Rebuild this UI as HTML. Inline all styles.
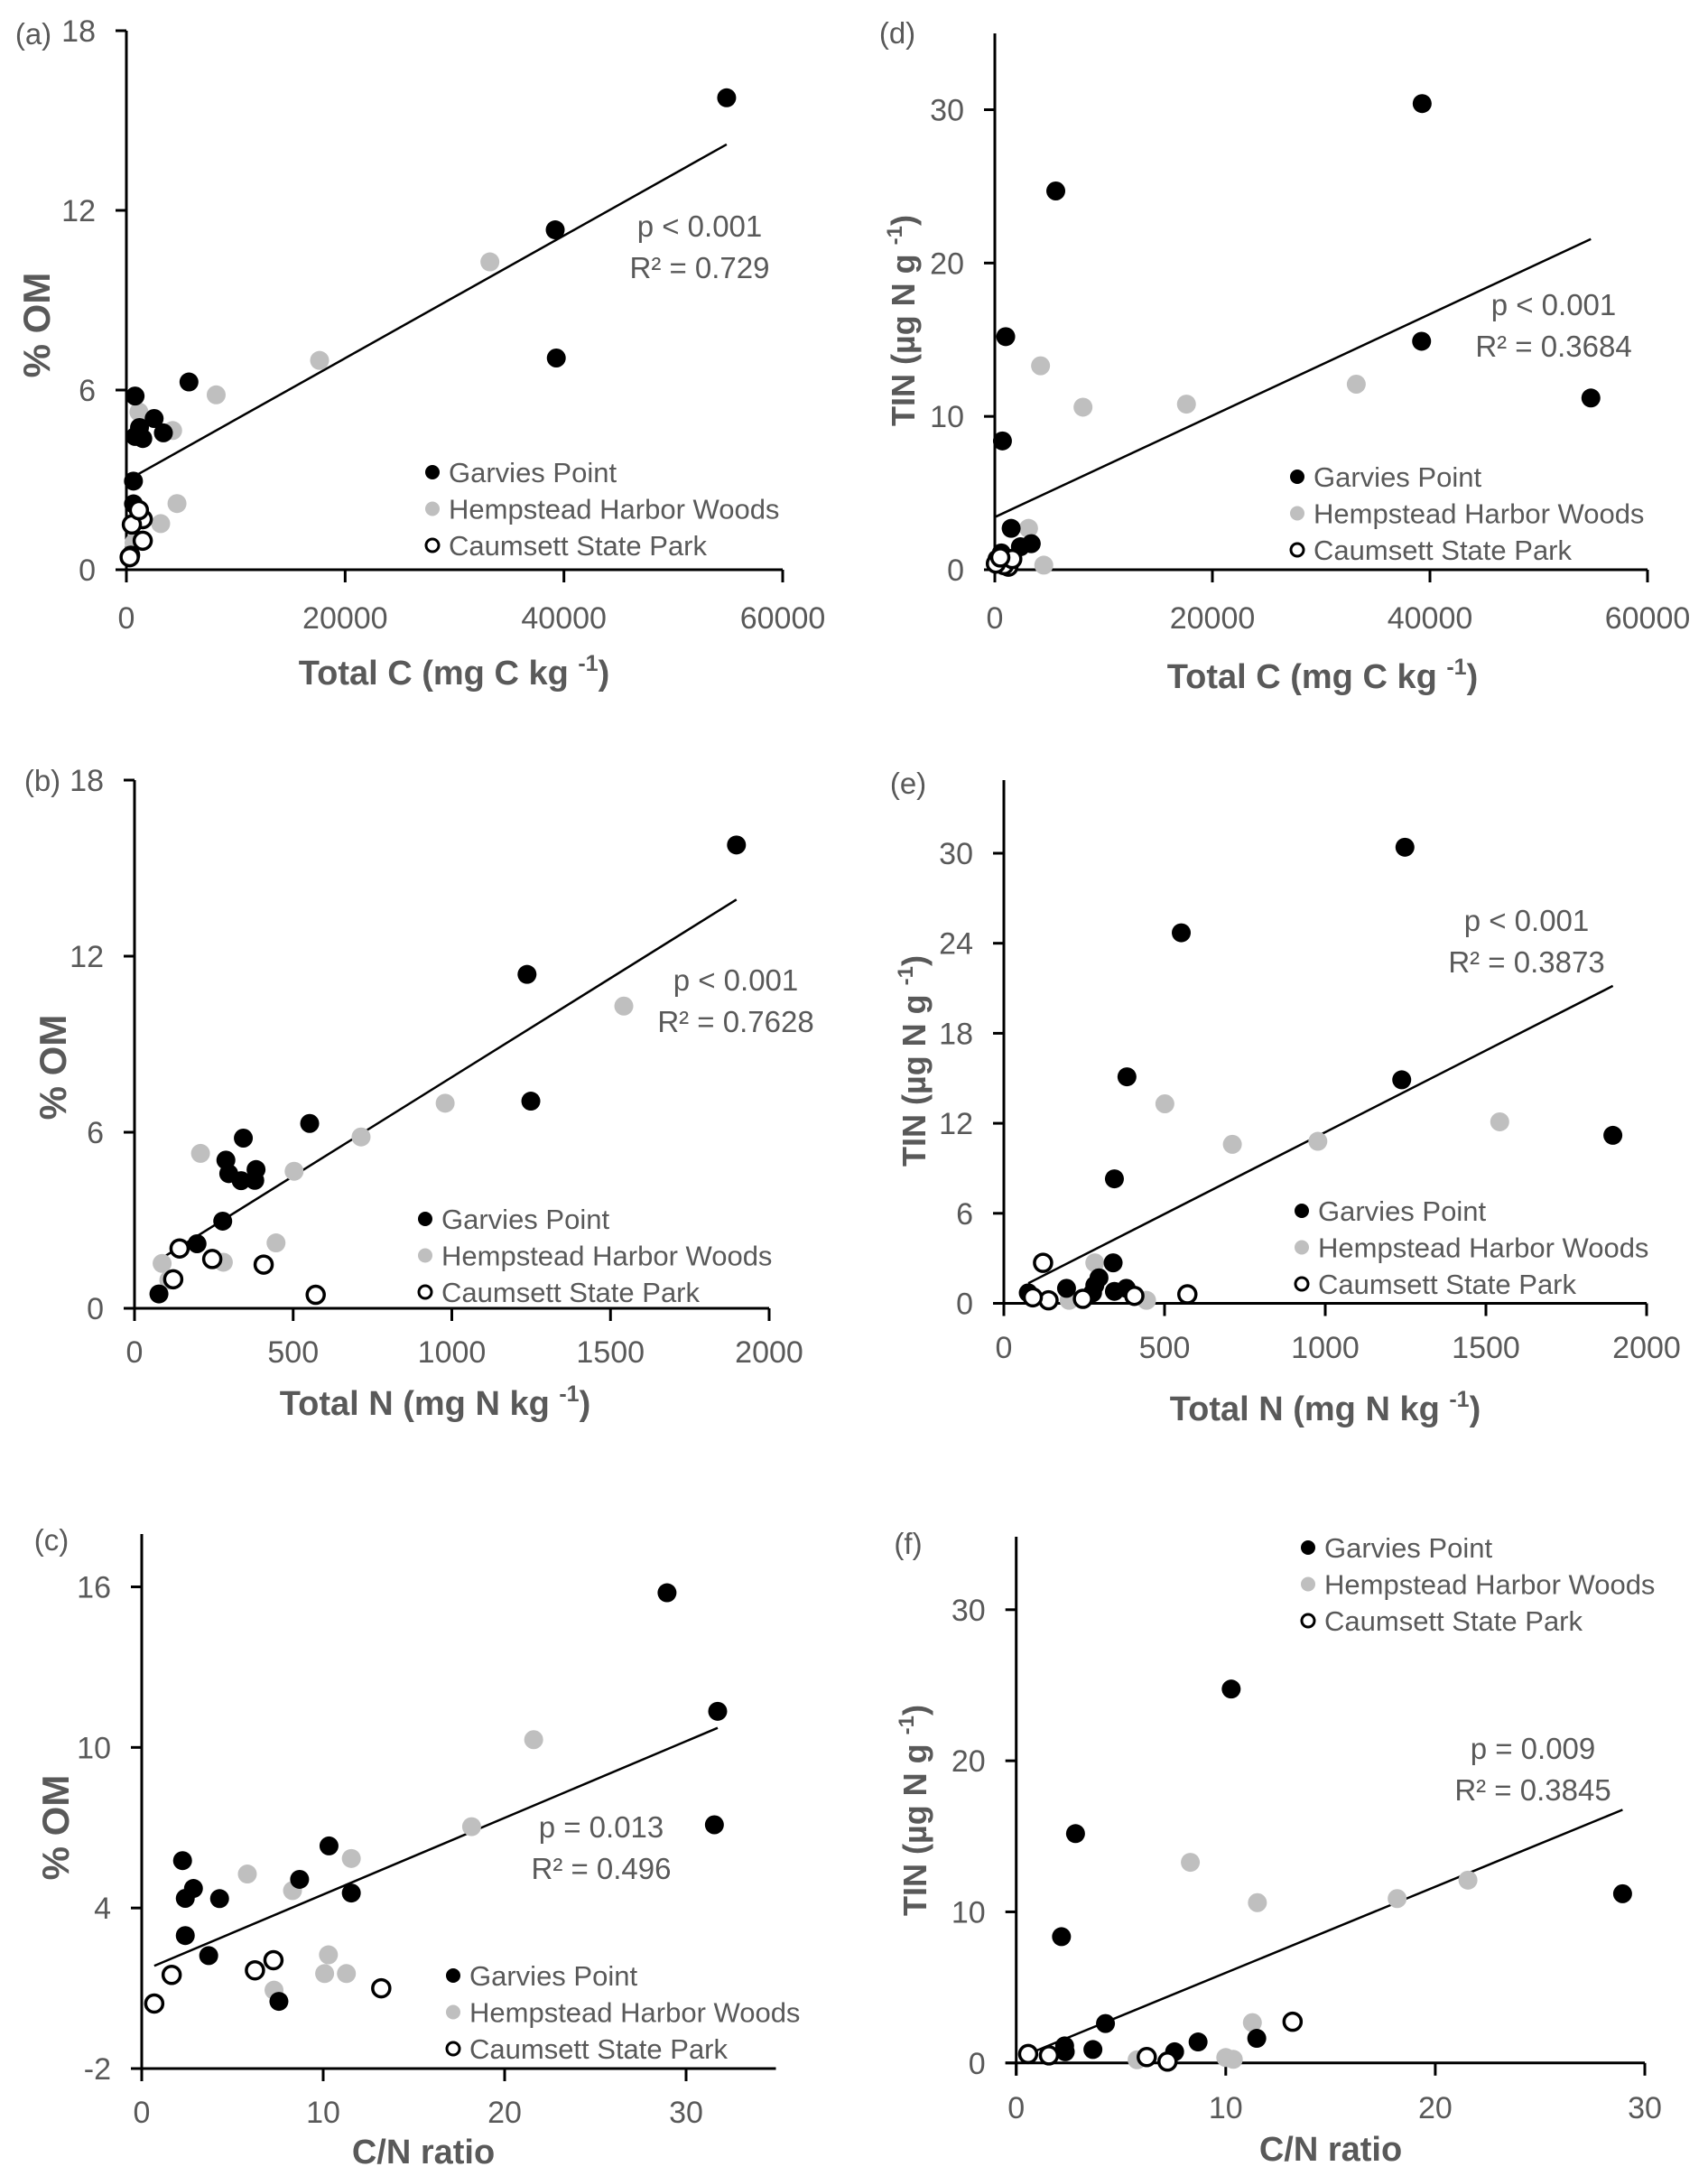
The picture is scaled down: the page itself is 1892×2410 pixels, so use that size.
<!DOCTYPE html>
<html><head><meta charset="utf-8"><style>
html,body{margin:0;padding:0;background:#fff}
svg{display:block}
text{font-family:"Liberation Sans",sans-serif}
</style></head><body>
<svg id="fig" xmlns="http://www.w3.org/2000/svg" width="1892" height="2410" viewBox="0 0 1892 2410"></svg>
<script>
// ---- Panel (a): %OM vs Total C ----
const aBlackX=[54876,39204,39303,5721,796,2537,1200,800,1500,3383,647,650,400];
const aBlackY=[15.76,11.35,7.07,6.27,5.80,5.05,4.75,4.45,4.38,4.57,2.96,2.2,0.49];
const aGrayX=[33233,17661,8209,1144,4229,4627,3134,700];
const aGrayY=[10.28,6.99,5.84,5.27,4.65,2.21,1.54,0.9];
const aOpenX=[1493,500,1493,300,1144];
const aOpenY=[1.69,1.51,0.97,0.42,1.99];
const aTrend=[2.97,0.0002047];
const aXTicks=[0,20000,40000,60000];
const aYTicks=[0,6,12,18];
const aStats=["p < 0.001","R² = 0.729"];
// ---- Panel (d): TIN vs Total C ----
const dBlackX=[39281,5604,1000,39231,54794,700,1500,3350,2350,600,200,1100];
const dBlackY=[30.4,24.7,15.2,14.9,11.2,8.4,2.7,1.7,1.5,1.1,0.7,0.5];
const dGrayX=[4203,8106,17614,33227,3100,4500];
const dGrayY=[13.3,10.6,10.8,12.1,2.7,0.3];
const dOpenX=[600,1250,850,1600,100,500];
const dOpenY=[0.5,0.2,0.3,0.7,0.4,0.8];
const dTrend=[3.43,0.000331];
const dXTicks=[0,20000,40000,60000];
const dYTicks=[0,10,20,30];
const dStats=["p < 0.001","R² = 0.3684"];
// ---- Panel (b): %OM vs Total N ----
const bBlackX=[1897,1237,1249,552,343,288,297,336,383,379,278,197,77];
const bBlackY=[15.79,11.38,7.06,6.30,5.80,5.05,4.59,4.35,4.73,4.36,2.97,2.20,0.49];
const bGrayX=[1542,979,714,208,503,446,87,280,108];
const bGrayY=[10.30,6.99,5.84,5.28,4.67,2.23,1.53,1.57,0.96];
const bOpenX=[142,245,407,122,571];
const bOpenY=[2.04,1.68,1.49,0.99,0.46];
const bTrend=[1.13,0.006747];
const bXTicks=[0,500,1000,1500,2000];
const bYTicks=[0,6,12,18];
const bStats=["p < 0.001","R² = 0.7628"];
// ---- Panel (e): TIN vs Total N ----
const eBlackX=[1248,552,383,1238,1895,344,340,296,283,276,195,344,381,76];
const eBlackY=[30.4,24.7,15.1,14.9,11.2,8.3,2.7,1.7,1.2,0.7,1.0,0.8,1.0,0.7];
const eGrayX=[501,711,977,1543,283,88,203,444];
const eGrayY=[13.3,10.6,10.8,12.1,2.7,0.4,0.2,0.2];
const eOpenX=[122,139,246,406,571,90];
const eOpenY=[2.7,0.2,0.3,0.5,0.6,0.4];
const eTrend=[0.51,0.010896];
const eXTicks=[0,500,1000,1500,2000];
const eYTicks=[0,6,12,18,24,30];
const eStats=["p < 0.001","R² = 0.3873"];
// ---- Panel (c): %OM vs C/N ----
const cBlackX=[28.95,31.74,31.56,10.32,2.25,2.85,2.4,4.29,8.7,11.55,2.4,3.69,7.56];
const cBlackY=[15.78,11.35,7.11,6.32,5.77,4.73,4.36,4.35,5.07,4.56,2.97,2.22,0.51];
const cGrayX=[21.6,18.18,11.55,5.82,8.31,10.29,10.08,11.28,7.29];
const cGrayY=[10.29,7.04,5.85,5.27,4.65,2.25,1.55,1.55,0.93];
const cOpenX=[7.26,6.24,1.65,13.2,0.69];
const cOpenY=[2.05,1.67,1.50,1.0,0.43];
const cTrend=[1.64,0.2864];
const cXTicks=[0,10,20,30];
const cYTicks=[-2,4,10,16];
const cStats=["p = 0.013","R² = 0.496"];
// ---- Panel (f): TIN vs C/N ----
const fBlackX=[28.94,10.26,2.83,2.16,4.26,11.48,8.68,7.56,3.66,2.31,2.34];
const fBlackY=[11.2,24.75,15.18,8.36,2.61,1.63,1.39,0.74,0.89,1.13,0.74];
const fGrayX=[21.56,18.18,11.51,8.31,11.27,10.0,10.36,5.77,7.22];
const fGrayY=[12.1,10.88,10.61,13.28,2.67,0.36,0.24,0.21,0.09];
const fOpenX=[13.19,0.57,1.56,6.23,7.22];
const fOpenY=[2.73,0.59,0.5,0.39,0.09];
const fTrend=[0.27,0.5697];
const fXTicks=[0,10,20,30];
const fYTicks=[0,10,20,30];
const fStats=["p = 0.009","R² = 0.3845"];

const NS="http://www.w3.org/2000/svg";
const svg=document.getElementById('fig');
const GRAY_TXT="#595959";
function mk(tag,attrs,parent){const e=document.createElementNS(NS,tag);for(const k in attrs)e.setAttribute(k,attrs[k]);(parent||svg).appendChild(e);return e;}

const panels=[
 {id:'a',label:'(a)',x0:140,x1:867,y0:631,y1:34,xmin:0,xmax:60000,ymin:0,ymax:18,axisTop:34,
  bx:aBlackX,by:aBlackY,gx:aGrayX,gy:aGrayY,ox:aOpenX,oy:aOpenY,tr:aTrend,xt:aXTicks,yt:aYTicks,st:aStats,
  stx:775,sty:250,legX:479,legY:523,labX:37,labY:37,xTitle:['Total C (mg C kg ','-1',')'],xtx:503,xty:744,xly:695,yTitle:'om',ytx:42,yty:360},
 {id:'d',label:'(d)',x0:1102,x1:1825,y0:631,y1:121.5,xmin:0,xmax:60000,ymin:0,ymax:30,axisTop:37,
  bx:dBlackX,by:dBlackY,gx:dGrayX,gy:dGrayY,ox:dOpenX,oy:dOpenY,tr:dTrend,xt:dXTicks,yt:dYTicks,st:dStats,
  stx:1721,sty:337,legX:1437,legY:528,labX:994,labY:36,xTitle:['Total C (mg C kg ','-1',')'],xtx:1465,xty:748,xly:695,yTitle:'tin',ytx:1000,yty:355},
 {id:'b',label:'(b)',x0:149,x1:852,y0:1449,y1:864,xmin:0,xmax:2000,ymin:0,ymax:18,axisTop:864,
  bx:bBlackX,by:bBlackY,gx:bGrayX,gy:bGrayY,ox:bOpenX,oy:bOpenY,tr:bTrend,xt:bXTicks,yt:bYTicks,st:bStats,
  stx:815,sty:1085,legX:471,legY:1350,labX:47,labY:864,xTitle:['Total N (mg N kg ','-1',')'],xtx:482,xty:1553,xly:1508,yTitle:'om',ytx:60,yty:1182},
 {id:'e',label:'(e)',x0:1112,x1:1824,y0:1443.5,y1:945,xmin:0,xmax:2000,ymin:0,ymax:30,axisTop:864,
  bx:eBlackX,by:eBlackY,gx:eGrayX,gy:eGrayY,ox:eOpenX,oy:eOpenY,tr:eTrend,xt:eXTicks,yt:eYTicks,st:eStats,
  stx:1691,sty:1019,legX:1442,legY:1341,labX:1006,labY:867,xTitle:['Total N (mg N kg ','-1',')'],xtx:1468,xty:1559,xly:1503,yTitle:'tin',ytx:1012,yty:1175},
 {id:'c',label:'(c)',x0:157,x1:760,y0:2291,y1:1757.5,xmin:0,xmax:30,ymin:-2,ymax:16,axisTop:1699,xEnd:859.5,
  bx:cBlackX,by:cBlackY,gx:cGrayX,gy:cGrayY,ox:cOpenX,oy:cOpenY,tr:cTrend,xt:cXTicks,yt:cYTicks,st:cStats,
  stx:666,sty:2023,legX:502,legY:2188,labX:57,labY:1705,xTitle:['C/N ratio'],xtx:469,xty:2382,xly:2350,yTitle:'om',ytx:63,yty:2024},
 {id:'f',label:'(f)',x0:1125.7,x1:1822,y0:2284.8,y1:1782.8,xmin:0,xmax:30,ymin:0,ymax:30,axisTop:1702,
  bx:fBlackX,by:fBlackY,gx:fGrayX,gy:fGrayY,ox:fOpenX,oy:fOpenY,tr:fTrend,xt:fXTicks,yt:fYTicks,st:fStats,
  stx:1698,sty:1936,legX:1449,legY:1714,labX:1006,labY:1709,xTitle:['C/N ratio'],xtx:1474,xty:2379,xly:2345,yTitle:'tin',ytx:1013,yty:2005}
];

panels.forEach(p=>{
  const g=mk('g',{});
  
  
  const sx=v=>p.x0+(v-p.xmin)/(p.xmax-p.xmin)*(p.x1-p.x0);
  const sy=v=>p.y0-(v-p.ymin)/(p.ymax-p.ymin)*(p.y0-p.y1);
  const xEnd=p.xEnd||p.x1;
  const ya=mk('line',{x1:p.x0,y1:p.axisTop,x2:p.x0,y2:p.y0+14,stroke:'#000','stroke-width':3},g);
  
  
  const xa=mk('line',{x1:p.x0-12,y1:p.y0,x2:xEnd,y2:p.y0,stroke:'#000','stroke-width':3},g);
  
  
  p.yt.forEach(v=>{
    mk('line',{x1:p.x0-12,y1:sy(v),x2:p.x0,y2:sy(v),stroke:'#000','stroke-width':3},g);
    const t=mk('text',{x:p.x0-34,y:sy(v)+12,'text-anchor':'end','font-size':34,fill:GRAY_TXT},g);
    t.textContent=v;
    
    
  });
  p.xt.forEach(v=>{
    mk('line',{x1:sx(v),y1:p.y0,x2:sx(v),y2:p.y0+14,stroke:'#000','stroke-width':3},g);
    const t=mk('text',{x:sx(v),y:p.xly+1,'text-anchor':'middle','font-size':34,fill:GRAY_TXT},g);
    t.textContent=v;
    
    
  });
  const lb=mk('text',{x:p.labX,y:p.labY+12,'text-anchor':'middle','font-size':33,fill:GRAY_TXT},g);
  lb.textContent=p.label;
  
  
  const xt=mk('text',{x:p.xtx,y:p.xty+14,'text-anchor':'middle','font-size':38,'font-weight':'bold',fill:GRAY_TXT},g);
  
  
  const s0=mk('tspan',{},xt); s0.textContent=p.xTitle[0];
  if(p.xTitle.length>1){
    const s1=mk('tspan',{dy:-15,'font-size':25},xt); s1.textContent=p.xTitle[1];
    const s2=mk('tspan',{dy:15},xt); s2.textContent=p.xTitle[2];
  }
  const yt=mk('text',{x:0,y:0,'text-anchor':'middle','font-size':36,'font-weight':'bold',fill:GRAY_TXT,transform:`translate(${p.ytx+13},${p.yty}) rotate(-90)`},g);
  
  
  if(p.yTitle==='om'){yt.setAttribute('font-size',42);yt.textContent='% OM';}
  else{
    const a=mk('tspan',{},yt); a.textContent='TIN (µg N g ';
    const b=mk('tspan',{dy:-14,'font-size':24},yt); b.textContent='-1';
    const c=mk('tspan',{dy:14},yt); c.textContent=')';
  }
  const allX=p.bx.concat(p.gx,p.ox);
  const mn=Math.min(...allX), mx=Math.max(...allX);
  const tl=mk('line',{x1:sx(mn),y1:sy(p.tr[0]+p.tr[1]*mn),x2:sx(mx),y2:sy(p.tr[0]+p.tr[1]*mx),stroke:'#000','stroke-width':2.5},g);
  
  
  const series=[[p.gx,p.gy,'#bfbfbf','none','hempstead-point'],[p.bx,p.by,'#000','none','garvies-point'],[p.ox,p.oy,'#fff','#000','caumsett-point']];
  series.forEach(s=>{
    s[0].forEach((xv,i)=>{
      const c=mk('circle',{cx:sx(xv),cy:sy(s[1][i]),r:s[3]==='none'?10.5:9.5,fill:s[2],stroke:s[3],'stroke-width':3.5},g);
      
      
    });
  });
  p.st.forEach((s,i)=>{
    const t=mk('text',{x:p.stx,y:p.sty+(i*46)+12,'text-anchor':'middle','font-size':33,fill:GRAY_TXT},g);
    t.textContent=s;
    
    
  });
  const leg=[['Garvies Point','#000','none'],['Hempstead Harbor Woods','#bfbfbf','none'],['Caumsett State Park','#fff','#000']];
  const lg=mk('g',{},g);
  
  
  leg.forEach((l,i)=>{
    const yy=p.legY+i*40.5;
    const m=mk('circle',{cx:p.legX,cy:yy,r:l[2]==='none'?8:7,fill:l[1],stroke:l[2],'stroke-width':3},lg);
    
    
    const t=mk('text',{x:p.legX+18,y:yy+11,'font-size':31,fill:GRAY_TXT},lg);
    t.textContent=l[0];
    
    
  });
});
</script>
</body></html>
